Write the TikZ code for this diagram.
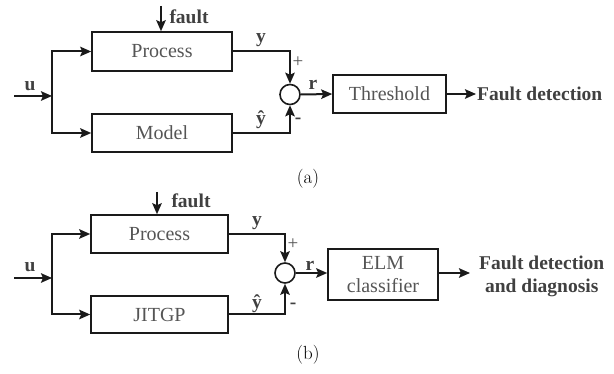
\documentclass[tikz,border=0pt]{standalone}
\usepackage{fontspec}
\newfontfamily\tnr{Liberation Serif}
\usetikzlibrary{arrows.meta}
\definecolor{txtgray}{HTML}{555555}
\definecolor{lblgray}{HTML}{404040}
\definecolor{linec}{HTML}{1A1A1A}
\tikzset{
  blk/.style={draw=linec, line width=1.6pt, inner sep=0pt, align=center,
    font=\tnr\fontsize{20}{21}\selectfont, text=txtgray},
  sumc/.style={draw=linec, line width=1.6pt, circle, minimum size=20pt, inner sep=0pt},
  lbl/.style={font=\tnr\bfseries\fontsize{19.5}{21}\selectfont, text=lblgray, inner sep=1pt},
  sgn/.style={font=\tnr\fontsize{19}{20}\selectfont, text=txtgray, inner sep=0pt},
  captxt/.style={font=\fontsize{19}{21}\selectfont, text=black, inner sep=0pt},
  conn/.style={draw=linec, line width=2pt, -{Stealth[length=11pt,width=9.5pt,inset=2pt]}},
  wire/.style={draw=linec, line width=2pt}
}
\begin{document}
\begin{tikzpicture}[x=1pt,y=-1pt]
\useasboundingbox (0,0) rectangle (614,374);
% ---------- (a)
\node[blk, minimum width=140pt, minimum height=39pt] (p1) at (162,51.5) {Process};
\node[blk, minimum width=140pt, minimum height=38pt] (m1) at (162,133) {Model};
\node[sumc] (s1) at (290,94.5) {};
\node[blk, minimum width=113pt, minimum height=38pt] (t1) at (389.5,94) {Threshold};
\node[lbl, anchor=west] (fd1) at (476,94) {Fault detection};
\coordinate (u1) at (14,96);
\coordinate (j1) at (52,96);
\coordinate (f1) at (161,6);
\draw[conn] (u1) -- (j1);
\draw[conn] (j1) |- (p1.west);
\draw[conn] (j1) |- (m1.west);
\draw[conn] (f1) -- (f1 |- p1.north);
\draw[conn] (p1.east) -| (s1.north);
\draw[conn] (m1.east) -| (s1.south);
\draw[conn] (s1.east) -- (t1.west);
\draw[conn] (t1.east) -- (fd1.west);
\node[lbl] (fl1) at (189,17) {fault};
\node[lbl] (ul1) at (30,86) {u};
\node[lbl] (yl1) at (261,40) {y};
\node[lbl] (yh1) at (261,120) {ŷ};
\node[sgn] (pl1) at (298,62) {+};
\node[lbl] (mi1) at (298,121) {-};
\node[lbl] (rl1) at (313,85) {r};
\node[captxt] (ca) at (308,179) {(a)};
% ---------- (b)
\node[blk, minimum width=137pt, minimum height=38pt] (p2) at (159.5,234) {Process};
\node[blk, minimum width=137pt, minimum height=37pt] (m2) at (159.5,314.5) {JITGP};
\node[sumc] (s2) at (285,273) {};
\node[blk, minimum width=110pt, minimum height=51pt] (e2) at (383,274.5) {ELM\\[2pt]classifier};
\node[lbl, anchor=west, align=center, inner xsep=9pt, font=\tnr\bfseries\fontsize{19.5}{23}\selectfont] (fd2) at (470,276) {Fault detection\\and diagnosis};
\coordinate (u2) at (14,278);
\coordinate (j2) at (52,278);
\coordinate (f2) at (157,192);
\draw[conn] (u2) -- (j2);
\draw[conn] (j2) |- (p2.west);
\draw[conn] (j2) |- (m2.west);
\draw[conn] (f2) -- (f2 |- p2.north);
\draw[conn] (p2.east) -| (s2.north);
\draw[conn] (m2.east) -| (s2.south);
\draw[conn] (s2.east) -- (s2.east -| e2.west);
\draw[conn] (e2.east |- s2.east) -- (fd2.west |- s2.east);
\node[lbl] (fl2) at (191,201) {fault};
\node[lbl] (ul2) at (30,267) {u};
\node[lbl] (yl2) at (257,223) {y};
\node[lbl] (yh2) at (257,304) {ŷ};
\node[sgn] (pl2) at (293,244) {+};
\node[lbl] (mi2) at (293,306) {-};
\node[lbl] (rl2) at (310,266) {r};
\node[captxt] (cb) at (308,355) {(b)};
\end{tikzpicture}
\end{document}
